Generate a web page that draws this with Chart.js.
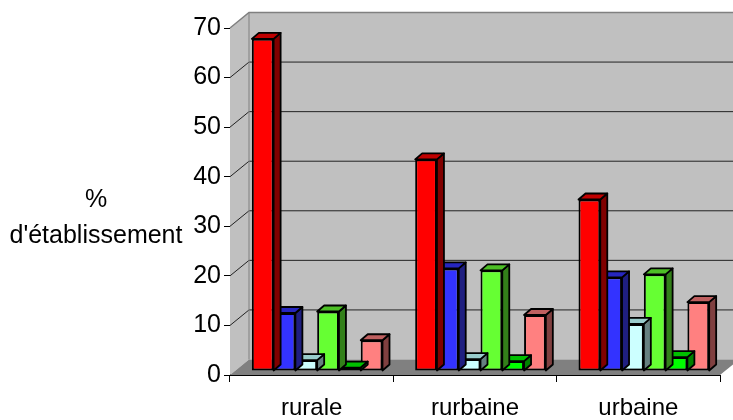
<!DOCTYPE html>
<html>
<head>
<meta charset="utf-8">
<script src="https://cdn.jsdelivr.net/npm/chart.js@4"></script>
<style>
  body { margin: 0; background: #fff; }
  canvas { display: block; }
</style>
</head>
<body>
<canvas id="myChart" width="733" height="420"></canvas>
<script>
// 3D-looking grouped bars, rendered with Chart.js

const categories = ['rurale', 'rurbaine', 'urbaine'];

// one array per series (colour order of the bars)
const rouge = [67, 42.7, 34.6];
const bleu = [11.7, 20.7, 18.9];
const cyan = [2.2, 2.4, 9.5];
const vert = [12, 20.3, 19.5];
const vertVif = [0.7, 2, 2.8];
const rose = [6.2, 11.3, 13.9];

const yTicks = [0, 10, 20, 30, 40, 50, 60, 70];
const yTitle = ['%', "d'établissement"];

const FONT = 'Liberation Sans, Arial, sans-serif';

// depth of the walls and of the bars
const WALL_DX = 19, WALL_DY = -15.5;
const BAR_SHIFT_X = 5.5, BAR_SHIFT_Y = -4;
const BAR_DX = 7, BAR_DY = -6;

function dataset(label, data, front, side, top) {
    return {
        label: label,
        data: data,
        backgroundColor: front,
        borderColor: '#000',
        borderWidth: 2,
        borderSkipped: false,
        sideColor: side,
        topColor: top,
        clip: false
    };
}

const depth3d = {
    id: 'depth3d',
    beforeDatasetsDraw(chart) {
        const ctx = chart.ctx;
        const a = chart.chartArea;
        const y = chart.scales.y;
        ctx.save();
        // left panel
        ctx.fillStyle = '#c0c0c0';
        ctx.beginPath();
        ctx.moveTo(a.left, a.top);
        ctx.lineTo(a.left + WALL_DX, a.top + WALL_DY);
        ctx.lineTo(a.left + WALL_DX, a.bottom + WALL_DY);
        ctx.lineTo(a.left, a.bottom);
        ctx.closePath();
        ctx.fill();
        // back wall
        ctx.fillRect(a.left + WALL_DX, a.top + WALL_DY, chart.width, a.bottom - a.top);
        // floor
        ctx.fillStyle = '#808080';
        ctx.beginPath();
        ctx.moveTo(a.left, a.bottom);
        ctx.lineTo(a.left + WALL_DX, a.bottom + WALL_DY);
        ctx.lineTo(a.right + WALL_DX, a.bottom + WALL_DY);
        ctx.lineTo(a.right, a.bottom);
        ctx.closePath();
        ctx.fill();
        // grid lines on wall and left panel
        yTicks.forEach(v => {
            if (v === 0) return;
            const py = y.getPixelForValue(v);
            ctx.strokeStyle = v === 70 ? '#808080' : '#222';
            ctx.lineWidth = v === 70 ? 1.5 : 1;
            ctx.beginPath();
            ctx.moveTo(a.left, py);
            ctx.lineTo(a.left + WALL_DX, py + WALL_DY);
            ctx.lineTo(chart.width, py + WALL_DY);
            ctx.stroke();
        });
        ctx.strokeStyle = '#808080';
        ctx.lineWidth = 1;
        ctx.beginPath();
        ctx.moveTo(a.left + WALL_DX, a.top + WALL_DY);
        ctx.lineTo(a.left + WALL_DX, a.bottom + WALL_DY);
        ctx.stroke();
        ctx.restore();

        ctx.save();
        ctx.translate(BAR_SHIFT_X, BAR_SHIFT_Y);
    },
    afterDatasetDraw(chart, args) {
        const ctx = chart.ctx;
        const ds = chart.data.datasets[args.index];
        ctx.save();
        ctx.lineWidth = 1.8;
        ctx.strokeStyle = '#000';
        ctx.lineJoin = 'round';
        args.meta.data.forEach(bar => {
            const p = bar.getProps(['x', 'y', 'base', 'width'], true);
            const l = p.x - p.width / 2, r = p.x + p.width / 2;
            // side face
            ctx.fillStyle = ds.sideColor;
            ctx.beginPath();
            ctx.moveTo(r, p.y);
            ctx.lineTo(r + BAR_DX, p.y + BAR_DY);
            ctx.lineTo(r + BAR_DX, p.base + BAR_DY);
            ctx.lineTo(r, p.base);
            ctx.closePath();
            ctx.fill();
            ctx.stroke();
            // top face
            ctx.fillStyle = ds.topColor;
            ctx.beginPath();
            ctx.moveTo(l, p.y);
            ctx.lineTo(l + BAR_DX, p.y + BAR_DY);
            ctx.lineTo(r + BAR_DX, p.y + BAR_DY);
            ctx.lineTo(r, p.y);
            ctx.closePath();
            ctx.fill();
            ctx.stroke();
        });
        ctx.restore();
    },
    afterDatasetsDraw(chart) {
        chart.ctx.restore();
    },
    afterDraw(chart) {
        const ctx = chart.ctx;
        ctx.save();
        ctx.fillStyle = '#000';
        ctx.font = '25px ' + FONT;
        ctx.textAlign = 'center';
        ctx.textBaseline = 'alphabetic';
        ctx.fillText(yTitle[0], 96, 207);
        ctx.fillText(yTitle[1], 96, 243);
        ctx.restore();
    }
};

const ctx = document.getElementById('myChart');

const chart = new Chart(ctx, {
    type: 'bar',
    data: {
        labels: categories,
        datasets: [
            dataset('rouge', rouge, '#ff0000', '#800000', '#c00000'),
            dataset('bleu', bleu, '#3333ff', '#1f1f80', '#2626bf'),
            dataset('cyan', cyan, '#ccffff', '#668080', '#99cccc'),
            dataset('vert', vert, '#66ff33', '#33801a', '#4dbf26'),
            dataset('vert vif', vertVif, '#00ff00', '#008000', '#00bf00'),
            dataset('rose', rose, '#ff8080', '#804040', '#bf6060')
        ]
    },
    options: {
        responsive: false,
        animation: false,
        layout: { padding: { left: 0, right: 13, top: 28, bottom: 0 } },
        plugins: {
            legend: { display: false },
            tooltip: { enabled: false }
        },
        datasets: {
            bar: { categoryPercentage: 0.8, barPercentage: 1 }
        },
        scales: {
            x: {
                grid: { drawOnChartArea: false, tickLength: 7, color: '#000' },
                border: { color: '#000', width: 1 },
                ticks: { color: '#000', font: { family: FONT, size: 24 }, padding: 12 },
                afterFit(scale) { scale.height = 45; }
            },
            y: {
                min: 0,
                max: 70,
                grid: { drawOnChartArea: false, tickLength: 6, color: '#000' },
                border: { color: '#000', width: 1 },
                ticks: {
                    stepSize: 10,
                    color: '#000',
                    font: { family: FONT, size: 25 },
                    padding: 3
                },
                afterFit(scale) { scale.width = 230; }
            }
        }
    },
    plugins: [depth3d]
});
</script>
</body>
</html>
